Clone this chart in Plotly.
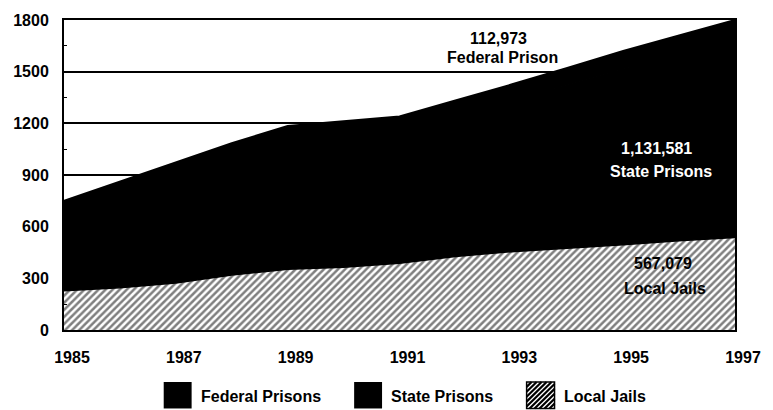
import plotly.graph_objects as go

years = [1985, 1986, 1987, 1988, 1989, 1990, 1991, 1992, 1993, 1994, 1995, 1996, 1997]
local_jails = [228, 245, 273, 319, 353, 364, 387, 427, 455, 473, 495, 518, 537]
state_prisons = [482, 572, 653, 716, 772, 782, 781, 826, 880, 953, 1024, 1087, 1150]
federal_prisons = [40, 45, 49, 50, 60, 66, 72, 80, 90, 96, 101, 105, 113]

y_ticks = [0, 300, 600, 900, 1200, 1500, 1800]
x_ticks = [1985, 1987, 1989, 1991, 1993, 1995, 1997]

W, H = 773, 410
L, R, T, B = 64, 737, 14, 330
FONT = "Liberation Sans, Arial, sans-serif"


def px(x):
    return (x - L) / (R - L)


def py(y):
    return (B - y) / (B - T)


fig = go.Figure()
fig.add_trace(go.Scatter(
    x=years, y=local_jails, name="Local Jails", stackgroup="one", mode="lines",
    line=dict(width=1.5, color="black"), fillcolor="white",
    fillpattern=dict(shape="/", fgcolor="black", bgcolor="white", size=5, solidity=0.5),
))
fig.add_trace(go.Scatter(
    x=years, y=state_prisons, name="State Prisons", stackgroup="one", mode="lines",
    line=dict(width=2, color="black"), fillcolor="black",
))
fig.add_trace(go.Scatter(
    x=years, y=federal_prisons, name="Federal Prisons", stackgroup="one", mode="lines",
    line=dict(width=2, color="black"), fillcolor="black",
))

annos = [
    ("112,973", 500, 33, "black"),
    ("Federal Prison", 504, 52, "black"),
    ("1,131,581", 658, 145, "white"),
    ("State Prisons", 663, 168, "white"),
    ("567,079", 665, 262, "black"),
    ("Local Jails", 667, 288, "black"),
]
annotations = []
for txt, x, y, c in annos:
    annotations.append(dict(text=f"<b>{txt}</b>", x=px(x), y=py(y), xref="paper", yref="paper",
                            showarrow=False, xanchor="center", yanchor="middle",
                            font=dict(family=FONT, size=16, color=c)))

# legend (custom)
leg = [("Federal Prisons", 164, "solid"), ("State Prisons", 355, "solid"), ("Local Jails", 528, "hatch")]
shapes = []
sq_top, sq_bot, sq_w = 383, 410, 28
for name, x0, kind in leg:
    x1 = x0 + sq_w
    if kind == "solid":
        shapes.append(dict(type="rect", xref="paper", yref="paper", x0=px(x0), x1=px(x1),
                           y0=py(sq_bot), y1=py(sq_top), fillcolor="black", line=dict(width=0)))
    else:
        shapes.append(dict(type="rect", xref="paper", yref="paper", x0=px(x0), x1=px(x1),
                           y0=py(sq_bot), y1=py(sq_top), fillcolor="white",
                           line=dict(width=1.5, color="black")))
        path = ""
        c = x0 + sq_top
        while c < x1 + sq_bot:
            pts = []
            for xx in (x0, x1):
                yy = c - xx
                if sq_top <= yy <= sq_bot:
                    pts.append((xx, yy))
            for yy in (sq_top, sq_bot):
                xx = c - yy
                if x0 <= xx <= x1:
                    pts.append((xx, yy))
            if len(pts) >= 2:
                (ax, ay), (bx, by) = pts[0], pts[1]
                path += f"M{px(ax)},{py(ay)} L{px(bx)},{py(by)} "
            c += 5
        shapes.append(dict(type="path", xref="paper", yref="paper", path=path,
                           line=dict(width=2.2, color="black")))
    annotations.append(dict(text=f"<b>{name}</b>", x=px(x1 + 7), y=py(398), xref="paper", yref="paper",
                            showarrow=False, xanchor="left", yanchor="middle",
                            font=dict(family=FONT, size=16, color="black")))

fig.update_layout(
    width=W, height=H, autosize=False,
    margin=dict(l=L, r=W - R, t=T, b=H - B, pad=0),
    paper_bgcolor="white", plot_bgcolor="white",
    showlegend=False,
    annotations=annotations, shapes=shapes,
    font=dict(family=FONT, color="black"),
)
fig.update_xaxes(
    range=[1985, 1997], tickvals=x_ticks, ticktext=[f"<b>{v}</b>" for v in x_ticks],
    showgrid=False, zeroline=False, showline=True, linecolor="black", linewidth=2, mirror=True,
    ticks="", tickfont=dict(family=FONT, size=16, color="black"),
    ticklabelstandoff=12, ticklabelshift=8,
)
fig.update_yaxes(
    range=[0, 1800], tickvals=y_ticks, ticktext=[f"<b>{v}</b>" for v in y_ticks],
    showgrid=True, gridcolor="black", gridwidth=2, zeroline=False,
    showline=True, linecolor="black", linewidth=2, mirror=True,
    ticks="", tickfont=dict(family=FONT, size=16, color="black"),
    ticklabelstandoff=10,
    minor=dict(tickvals=[150, 450, 750, 1050, 1350, 1650], ticks="inside", ticklen=3,
               tickcolor="black", showgrid=False),
)

fig.write_html("out.html", config={"displayModeBar": False},
               post_script="document.body.style.margin='0';document.body.style.overflow='hidden';")
